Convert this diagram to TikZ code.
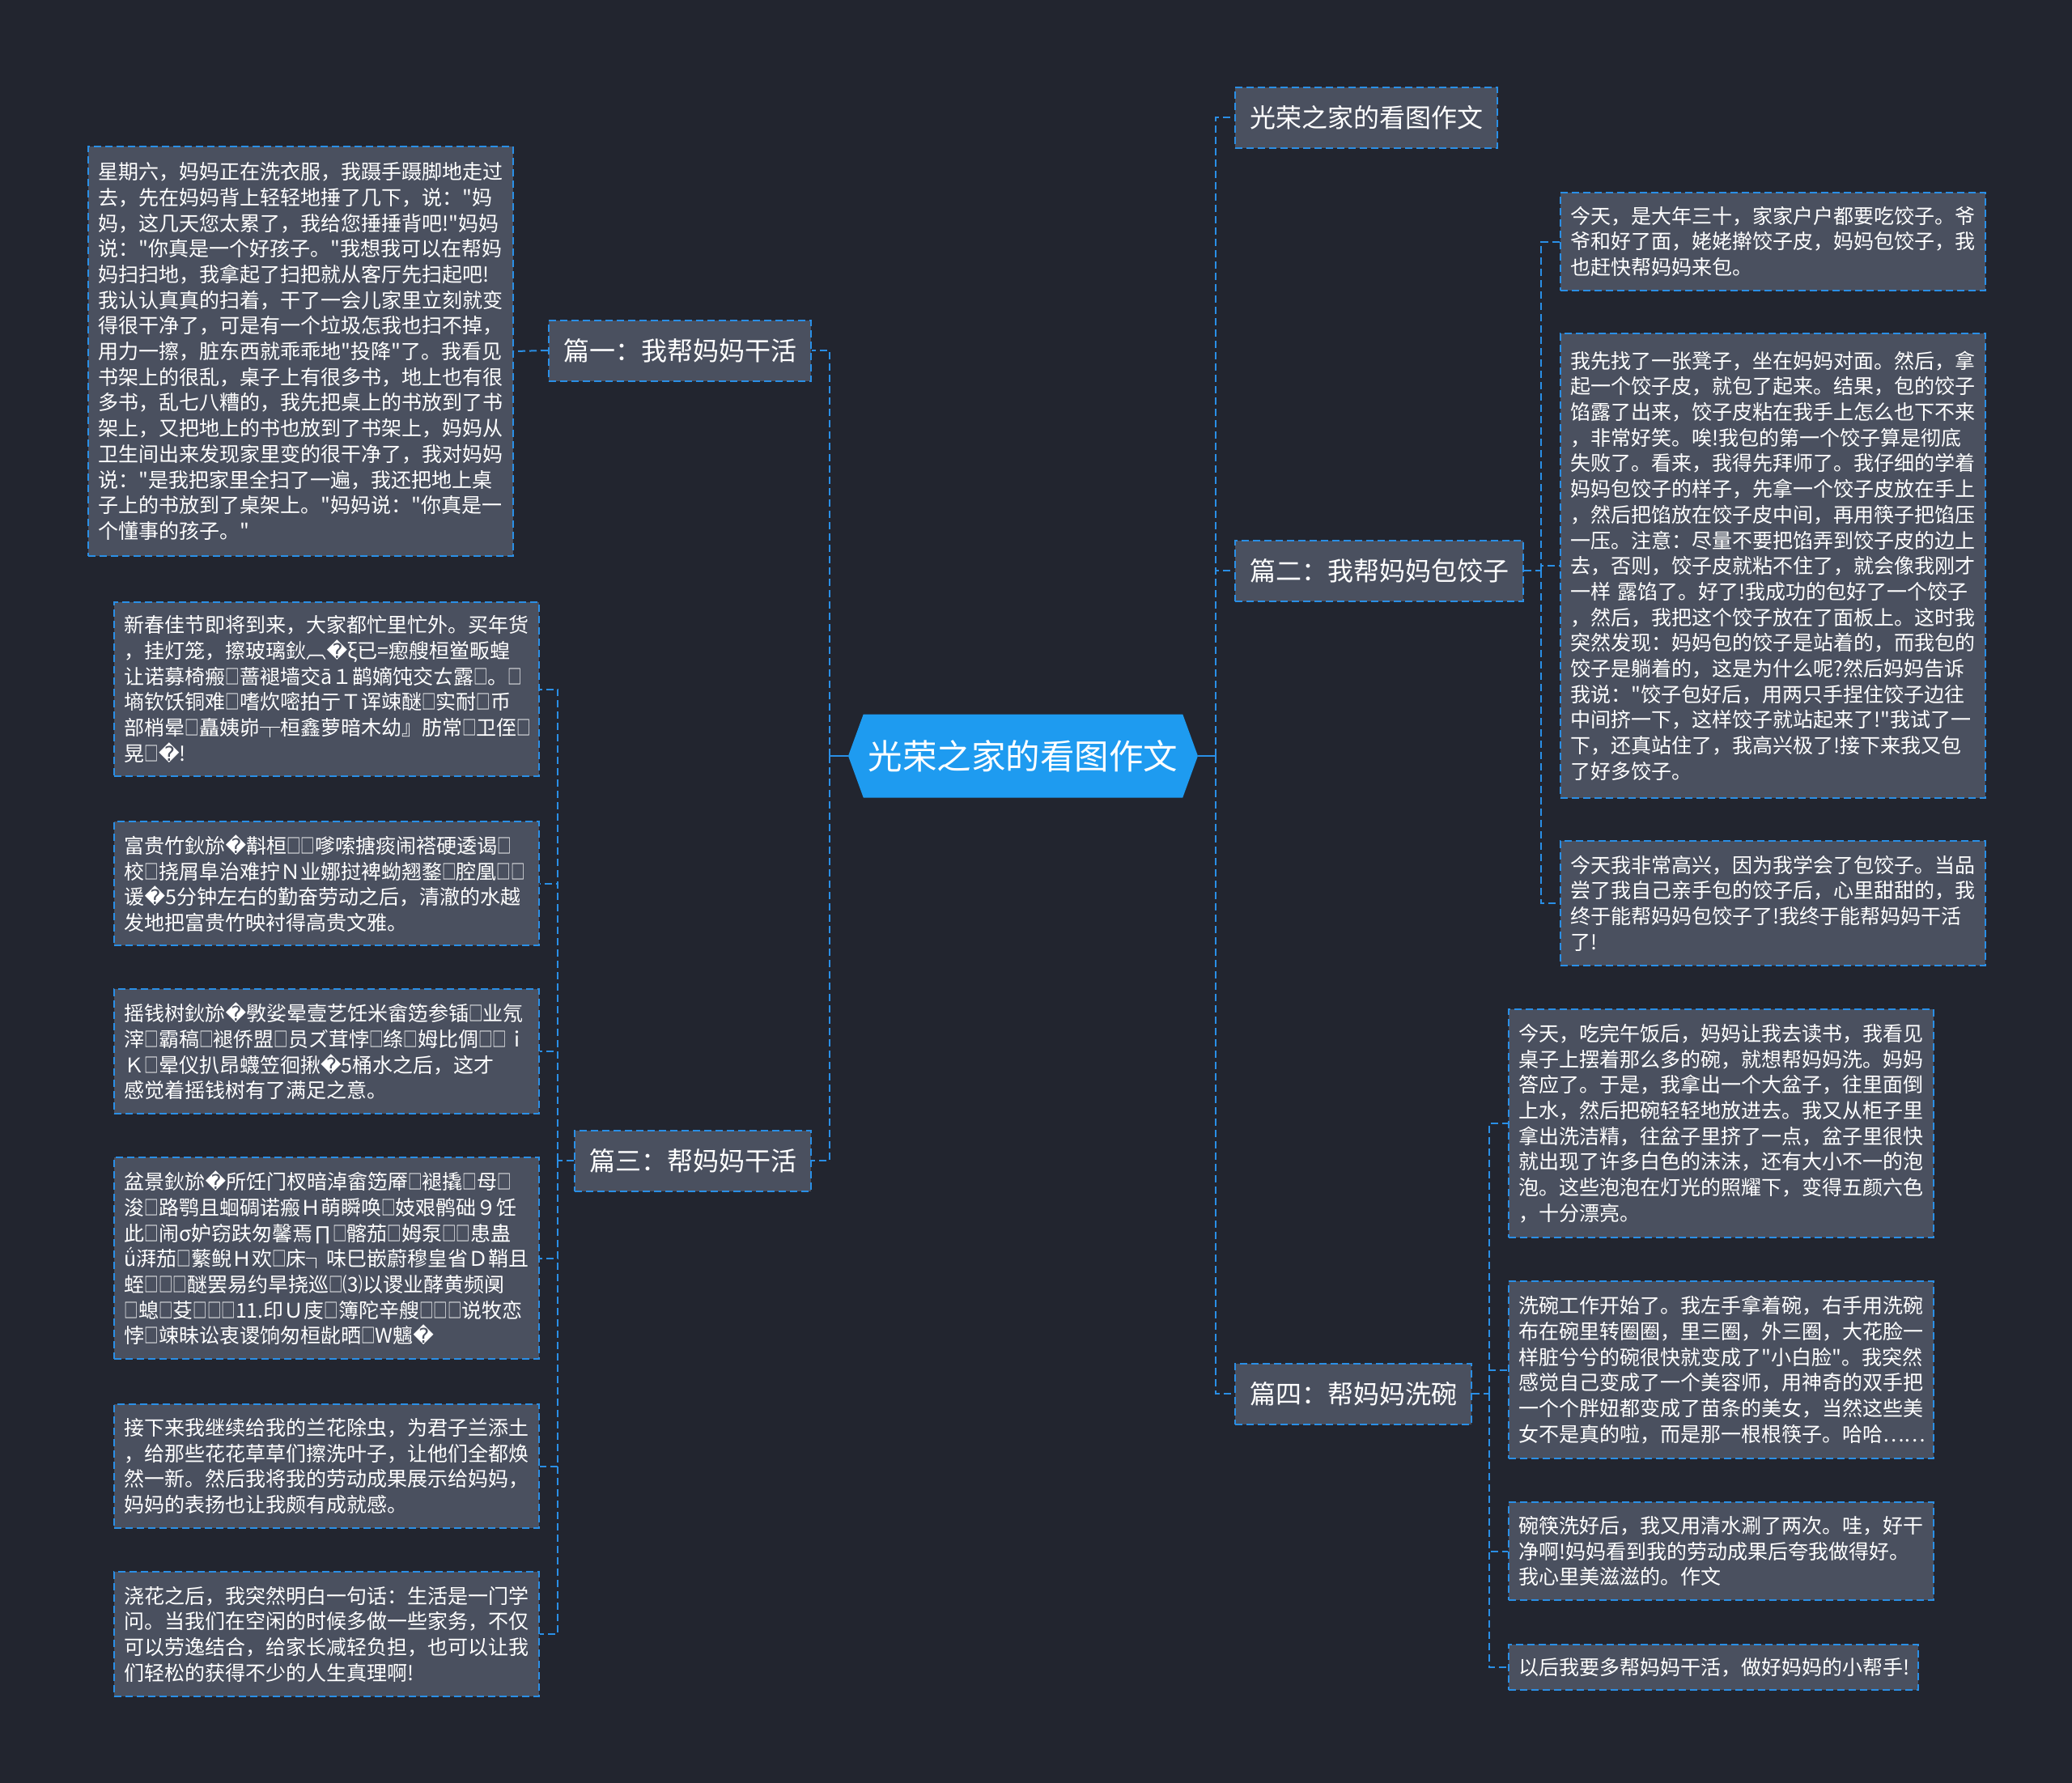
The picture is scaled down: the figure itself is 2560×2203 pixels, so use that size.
\documentclass[tikz,border=0pt]{standalone}
\usepackage{fontspec}
\usepackage{graphicx}
\usetikzlibrary{shapes.symbols}
\newfontfamily\cjk{Noto Sans CJK SC}
\newfontfamily\dv{DejaVu Sans}
\newcommand\rp{{\dv\char"FFFD}}
\newcommand\tf{\scalebox{0.7}[1]{□}}
\setlength\parindent{0pt}
\definecolor{bg}{HTML}{22252F}
\definecolor{boxfill}{HTML}{4A505F}
\definecolor{edge}{HTML}{2A8FE6}
\definecolor{hub}{HTML}{1E9BF0}
\begin{document}
\begin{tikzpicture}[x=1pt,y=-1pt,
 leaf/.style={draw=edge, line width=2pt, dash pattern=on 9pt off 5pt, fill=boxfill, text=white,
   font=\cjk\fontsize{25}{31.7}\selectfont, align=left, text width=500pt, inner xsep=12.5pt,
   inner ysep=0pt, anchor=north west},
 branch/.style={draw=edge, line width=2pt, dash pattern=on 9pt off 5pt, fill=boxfill, text=white,
   font=\cjk\fontsize{32}{38}\selectfont, inner xsep=18pt, inner ysep=0pt, minimum height=75pt},
 hubnode/.style={signal, signal to=west and east, signal pointer angle=140, fill=hub, text=white,
   font=\cjk\fontsize{42.5}{48}\selectfont, minimum width=432pt, minimum height=103pt, inner sep=0pt},
 link/.style={draw=edge, line width=2pt, dash pattern=on 9pt off 5pt},
 solidlink/.style={draw=edge, line width=2.5pt}
]
\fill[bg] (0,0) rectangle (2560,2203);
\useasboundingbox (0,0) rectangle (2560,2203);

% hub
\node[hubnode] (c) at (1264,934) {光荣之家的看图作文};

% branches
\node[branch, anchor=east] (b1) at (1003,433) {篇一：我帮妈妈干活};
\node[branch, anchor=east] (b3) at (1003,1434) {篇三：帮妈妈干活};
\node[branch, anchor=west] (t) at (1525,145) {光荣之家的看图作文};
\node[branch, anchor=west] (b2) at (1525,705) {篇二：我帮妈妈包饺子};
\node[branch, anchor=west] (b4) at (1525,1722) {篇四：帮妈妈洗碗};

% leaf of b1
\node[leaf, minimum height=506pt] (a1) at (108,180) {星期六，妈妈正在洗衣服，我蹑手蹑脚地走过\\
去，先在妈妈背上轻轻地捶了几下，说："妈\\
妈，这几天您太累了，我给您捶捶背吧!"妈妈\\
说："你真是一个好孩子。"我想我可以在帮妈\\
妈扫扫地，我拿起了扫把就从客厅先扫起吧!\\
我认认真真的扫着，干了一会儿家里立刻就变\\
得很干净了，可是有一个垃圾怎我也扫不掉，\\
用力一擦，脏东西就乖乖地"投降"了。我看见\\
书架上的很乱，桌子上有很多书，地上也有很\\
多书，乱七八糟的，我先把桌上的书放到了书\\
架上，又把地上的书也放到了书架上，妈妈从\\
卫生间出来发现家里变的很干净了，我对妈妈\\
说："是我把家里全扫了一遍，我还把地上桌\\
子上的书放到了桌架上。"妈妈说："你真是一\\
个懂事的孩子。"};

% leaves of b3
\node[leaf, minimum height=215pt] (c1) at (140,743) {新春佳节即将到来，大家都忙里忙外。买年货\\
，挂灯笼，擦玻璃鈥︹\rp ξ已=瘛艘桓鲎畈蝗\\
让诺募椅瘢\tf 蔷褪墙交ā１鹋嫡饨交ㄊ露\tf 。\tf\\
墒钦饫铜难\tf 嗜炊嘧拍亍Ｔ诨竦醚\tf 实耐\tf 币\\
部梢晕\tf 矗姨峁┬桓鑫萝暗木幼』肪常\tf 卫侄\tf\\
晃\tf\rp!};
\node[leaf, minimum height=153pt] (c2) at (140,1014) {富贵竹鈥旀\rp 斠桓\tf\tf 嗲嗦搪痰闹褡硬逶谒\tf\\
校\tf 挠屑阜治难拧Ｎ业娜挝裨蚴翘鍪\tf 腔凰\tf\tf\\
谖\rp 5分钟左右的勤奋劳动之后，清澈的水越\\
发地把富贵竹映衬得高贵文雅。};
\node[leaf, minimum height=154pt] (c3) at (140,1221) {摇钱树鈥旀\rp 斆娑晕壹艺饪米畲笾参锸\tf 业氖\\
滓\tf 霸稿\tf 褪侨盟\tf 员ズ茸悖\tf 绦\tf 姆比倜\tf\tf ｉ\\
Ｋ\tf 晕仪扒昂蠛笠徊揪\rp 5桶水之后，这才\\
感觉着摇钱树有了满足之意。};
\node[leaf, minimum height=249pt] (c4) at (140,1429) {盆景鈥旀\rp 所饪门杈暗淖畲笾厣\tf 褪撬\tf 母\tf\\
浚\tf 路鹗且蛔碉诺瘢Ｈ萌瞬唤\tf 妓艰鹘础９饪\\
此\tf 闹σ妒窃趺匆馨焉∏\tf 髂茄\tf 姆泵\tf\tf 患蛊\\
ǘ湃茄\tf 蘩鲵Ｈ欢\tf 床┐味巳嵌蔚穆皇省Ｄ鞘且\\
蛭\tf\tf\tf 醚罢易约旱挠巡\tf ⑶以谡业酵黄频阒\\
\tf 螅\tf 芟\tf\tf\tf 11.印Ｕ庋\tf 簿陀辛艘\tf\tf\tf 说牧恋\\
悖\tf 竦昧讼衷谡饷匆桓龀晒\tf W魑\rp};
\node[leaf, minimum height=153pt] (c5) at (140,1734) {接下来我继续给我的兰花除虫，为君子兰添土\\
，给那些花花草草们擦洗叶子，让他们全都焕\\
然一新。然后我将我的劳动成果展示给妈妈，\\
妈妈的表扬也让我颇有成就感。};
\node[leaf, minimum height=154pt] (c6) at (140,1941) {浇花之后，我突然明白一句话：生活是一门学\\
问。当我们在空闲的时候多做一些家务，不仅\\
可以劳逸结合，给家长减轻负担，也可以让我\\
们轻松的获得不少的人生真理啊!};

% leaves of b2
\node[leaf, minimum height=121pt] (d1) at (1927,237) {今天，是大年三十，家家户户都要吃饺子。爷\\
爷和好了面，姥姥擀饺子皮，妈妈包饺子，我\\
也赶快帮妈妈来包。};
\node[leaf, minimum height=574pt] (d2) at (1927,411) {我先找了一张凳子，坐在妈妈对面。然后，拿\\
起一个饺子皮，就包了起来。结果，包的饺子\\
馅露了出来，饺子皮粘在我手上怎么也下不来\\
，非常好笑。唉!我包的第一个饺子算是彻底\\
失败了。看来，我得先拜师了。我仔细的学着\\
妈妈包饺子的样子，先拿一个饺子皮放在手上\\
，然后把馅放在饺子皮中间，再用筷子把馅压\\
一压。注意：尽量不要把馅弄到饺子皮的边上\\
去，否则，饺子皮就粘不住了，就会像我刚才\\
一样~露馅了。好了!我成功的包好了一个饺子\\
，然后，我把这个饺子放在了面板上。这时我\\
突然发现：妈妈包的饺子是站着的，而我包的\\
饺子是躺着的，这是为什么呢?然后妈妈告诉\\
我说："饺子包好后，用两只手捏住饺子边往\\
中间挤一下，这样饺子就站起来了!"我试了一\\
下，还真站住了，我高兴极了!接下来我又包\\
了好多饺子。};
\node[leaf, minimum height=154pt] (d3) at (1927,1038) {今天我非常高兴，因为我学会了包饺子。当品\\
尝了我自己亲手包的饺子后，心里甜甜的，我\\
终于能帮妈妈包饺子了!我终于能帮妈妈干活\\
了!};

% leaves of b4
\node[leaf, minimum height=282pt] (e1) at (1863,1246) {今天，吃完午饭后，妈妈让我去读书，我看见\\
桌子上摆着那么多的碗，就想帮妈妈洗。妈妈\\
答应了。于是，我拿出一个大盆子，往里面倒\\
上水，然后把碗轻轻地放进去。我又从柜子里\\
拿出洗洁精，往盆子里挤了一点，盆子里很快\\
就出现了许多白色的沫沫，还有大小不一的泡\\
泡。这些泡泡在灯光的照耀下，变得五颜六色\\
，十分漂亮。};
\node[leaf, minimum height=219pt] (e2) at (1863,1582) {洗碗工作开始了。我左手拿着碗，右手用洗碗\\
布在碗里转圈圈，里三圈，外三圈，大花脸一\\
样脏兮兮的碗很快就变成了"小白脸"。我突然\\
感觉自己变成了一个美容师，用神奇的双手把\\
一个个胖妞都变成了苗条的美女，当然这些美\\
女不是真的啦，而是那一根根筷子。哈哈……};
\node[leaf, minimum height=121pt] (e3) at (1863,1855) {碗筷洗好后，我又用清水涮了两次。哇，好干\\
净啊!妈妈看到我的劳动成果后夸我做得好。\\
我心里美滋滋的。作文};
\node[leaf, minimum height=56pt, text width=481pt] (e4) at (1863,2031) {以后我要多帮妈妈干活，做好妈妈的小帮手!};

% trunk coordinates
\coordinate (LT) at (1025,0);
\coordinate (RT) at (1502,0);
\coordinate (S1) at (689,0);
\coordinate (S2) at (1904,0);
\coordinate (S4) at (1840,0);

% hub connectors
\draw[solidlink] (c.west) -- (c.west -| LT);
\draw[solidlink] (c.east) -- (c.east -| RT);
\draw[link] (c.west -| LT) |- (b1.east);
\draw[link] (c.west -| LT) |- (b3.east);
\draw[link] (c.east -| RT) |- (t.west);
\draw[link] (c.east -| RT) |- (b2.west);
\draw[link] (c.east -| RT) |- (b4.west);

% branch 1
\draw[link] (b1.west) -- (a1.east);
% branch 2
\draw[link] (b2.east) -- (b2.east -| S2);
\foreach \n in {d1,d2,d3} \draw[link] (b2.east -| S2) |- (\n.west);
% branch 3
\draw[link] (b3.west) -- (b3.west -| S1);
\foreach \n in {c1,c2,c3,c4,c5,c6} \draw[link] (b3.west -| S1) |- (\n.east);
% branch 4
\draw[link] (b4.east) -- (b4.east -| S4);
\foreach \n in {e1,e2,e3,e4} \draw[link] (b4.east -| S4) |- (\n.west);
\end{tikzpicture}
\end{document}
